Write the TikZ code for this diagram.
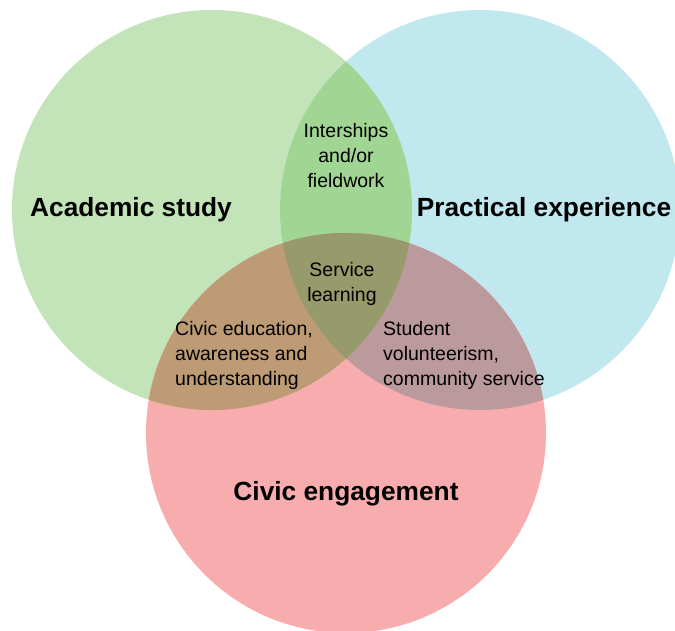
\documentclass[tikz,border=0pt]{standalone}
\usepackage{fontspec}
\setmainfont{Liberation Sans}
\usepackage{xcolor}
\definecolor{acadgreen}{HTML}{C3E4B9}
\definecolor{practblue}{HTML}{C0E8EE}
\definecolor{civicred}{HTML}{F7ADAE}
\definecolor{gbmix}{HTML}{A0D594}
\definecolor{grmix}{HTML}{BD9B75}
\definecolor{brmix}{HTML}{BB9A9D}
\definecolor{allmix}{HTML}{979A6A}
\tikzset{big/.style={font=\fontsize{26.3}{30}\selectfont\bfseries, inner sep=0pt},
 small/.style={font=\fontsize{19.5}{25}\selectfont, inner sep=0pt},
 }

\begin{document}
\begin{tikzpicture}[x=1pt,y=-1pt]
        \useasboundingbox (0,0) rectangle (675,631);
        \coordinate (ga) at (212,210);
        \coordinate (pb) at (480,210);
        \coordinate (cr) at (346,433);
        \fill[acadgreen] (ga) circle (200pt);
        \fill[practblue] (pb) circle (200pt);
        \fill[civicred] (cr) circle (200pt);
        \begin{scope}
            \clip (ga) circle (200pt);
            \fill[gbmix] (pb) circle (200pt);
            \fill[grmix] (cr) circle (200pt);
        \end{scope}
        \begin{scope}
            \clip (pb) circle (200pt);
            \fill[brmix] (cr) circle (200pt);
            \clip (ga) circle (200pt);
            \fill[allmix] (cr) circle (200pt);
        \end{scope}
        \node[big] (acad) at (131,210) {Academic study};
        \node[big] (pract) at (544,210) {Practical experience};
        \node[big] (civic) at (346,494) {Civic engagement};
        \node[small, align=center] (intern) at (346,156) {Interships\\and/or\\fieldwork};
        \node[small, align=center] (service) at (342,284) {Service\\learning};
        \node[small, align=left, anchor=west] (cived) at (175,355) {Civic education,\\awareness and\\understanding};
        \node[small, align=left, anchor=west] (volun) at (383,355) {Student\\volunteerism,\\community service};
    \end{tikzpicture}
\end{document}
